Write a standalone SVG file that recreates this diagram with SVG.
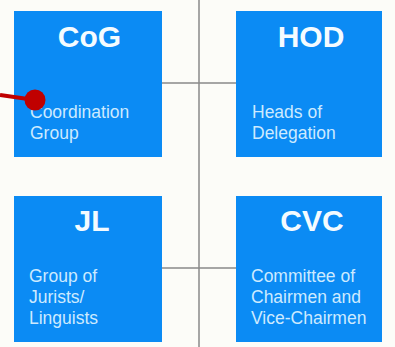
<svg xmlns="http://www.w3.org/2000/svg" width="395" height="347" viewBox="0 0 395 347">
<style>
.box{fill:#0b8bf4}
.t{font-family:"Liberation Sans",Arial,sans-serif;font-weight:bold;font-size:30px;fill:#f4fbff;text-anchor:middle}
.s{font-family:"Liberation Sans",Arial,sans-serif;font-size:17.5px;fill:#cdeaff}
.ln{stroke:#8a8a8a;stroke-width:1.5;fill:none}
</style>
<rect width="395" height="347" fill="#fcfcf8"/>
<g id="connectors">
<line class="ln" x1="199" y1="0" x2="199" y2="347"/>
<line class="ln" x1="162" y1="83" x2="236" y2="83"/>
<line class="ln" x1="162" y1="268" x2="236" y2="268"/>
</g>
<g id="CoG">
<rect class="box" x="14" y="11" width="148" height="146"/>
<text class="t" x="89.5" y="47">CoG</text>
<text class="s" x="30" y="118">Coordination</text>
<text class="s" x="30" y="139">Group</text>
</g>
<g id="HOD">
<rect class="box" x="236" y="11" width="146" height="146"/>
<text class="t" x="311" y="47">HOD</text>
<text class="s" x="252" y="118">Heads of</text>
<text class="s" x="252" y="139">Delegation</text>
</g>
<g id="JL">
<rect class="box" x="14" y="196" width="148" height="146"/>
<text class="t" x="92" y="231">JL</text>
<text class="s" x="29" y="282">Group of</text>
<text class="s" x="29" y="303">Jurists/</text>
<text class="s" x="29" y="324">Linguists</text>
</g>
<g id="CVC">
<rect class="box" x="236" y="196" width="146" height="146"/>
<text class="t" x="312" y="231">CVC</text>
<text class="s" x="251" y="282">Committee of</text>
<text class="s" x="251" y="303">Chairmen and</text>
<text class="s" x="251" y="324">Vice-Chairmen</text>
</g>
<g id="pointer">
<line x1="0" y1="95" x2="35" y2="100" stroke="#c00000" stroke-width="4"/>
<circle cx="35" cy="100" r="10.5" fill="#c00000"/>
</g>
</svg>
